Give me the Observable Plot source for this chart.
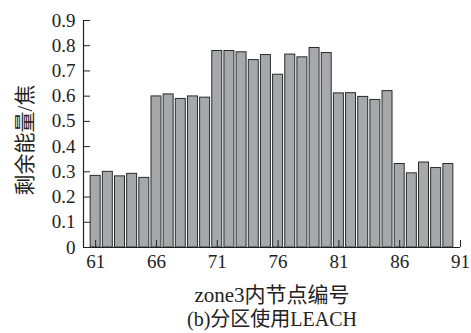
<!DOCTYPE html>
<html>
<head>
<meta charset="utf-8">
<script src="https://cdn.jsdelivr.net/npm/d3@7"></script>
<script src="https://cdn.jsdelivr.net/npm/@observablehq/plot@0.6"></script>
<style>
body { margin: 0; background: #fff; }
</style>
</head>
<body>
<div id="chart"></div>
<script>
const nodes = [61,62,63,64,65,66,67,68,69,70,71,72,73,74,75,76,77,78,79,80,81,82,83,84,85,86,87,88,89,90];
const energy = [0.284,0.300,0.282,0.292,0.276,0.599,0.607,0.589,0.599,0.594,0.779,0.779,0.774,0.743,0.763,0.685,0.765,0.754,0.791,0.771,0.611,0.612,0.597,0.585,0.620,0.331,0.294,0.337,0.315,0.331];
const xTicks = [61,66,71,76,81,86,91];
const yTicks = [0,0.1,0.2,0.3,0.4,0.5,0.6,0.7,0.8,0.9];
const xLabel = "zone3内节点编号";
const yLabel = "剩余能量/焦";
const caption = "(b)分区使用LEACH";

const data = nodes.map((n, i) => ({node: n, value: energy[i]}));
const serif = "Liberation Serif, Noto Sans CJK SC";

const chart = Plot.plot({
  width: 471,
  height: 333,
  marginLeft: 83,
  marginRight: 11,
  marginTop: 20,
  marginBottom: 86,
  style: "font-family: 'Liberation Serif', 'Noto Sans CJK SC', serif; font-size: 19px; background: #fff; color: #222;",
  x: {domain: [60, 91], ticks: xTicks},
  y: {domain: [0, 0.9], ticks: yTicks},
  marks: [
    Plot.rectY(data, {x1: d => d.node - 0.41, x2: d => d.node + 0.41, y: "value", fill: "#a7a8ac", stroke: "#2a2a2a", strokeWidth: 1}),
    Plot.ruleY([0], {stroke: "#222", strokeWidth: 1.2}),
    Plot.ruleX([60], {stroke: "#222", strokeWidth: 1.2}),
    Plot.axisX({ticks: xTicks, tickSize: -7, tickPadding: 14, tickFormat: d => String(d), label: null, fontSize: 19, fontFamily: serif}),
    Plot.axisY({ticks: yTicks, tickSize: -7, tickPadding: 15, tickFormat: d => d === 0 ? "0" : d3.format(".1f")(d), label: null, fontSize: 19, fontFamily: serif}),
    Plot.text([xLabel], {frameAnchor: "bottom", textAnchor: "middle", lineAnchor: "middle", dy: 48, fontSize: 21, fontFamily: serif}),
    Plot.text([caption], {frameAnchor: "bottom", textAnchor: "middle", lineAnchor: "middle", dy: 72, fontSize: 20, fontFamily: serif}),
    Plot.text([yLabel], {frameAnchor: "left", textAnchor: "middle", lineAnchor: "middle", dx: -58, dy: 6, rotate: -90, fontSize: 21, fontFamily: serif})
  ]
});
document.getElementById("chart").appendChild(chart);
</script>
</body>
</html>
